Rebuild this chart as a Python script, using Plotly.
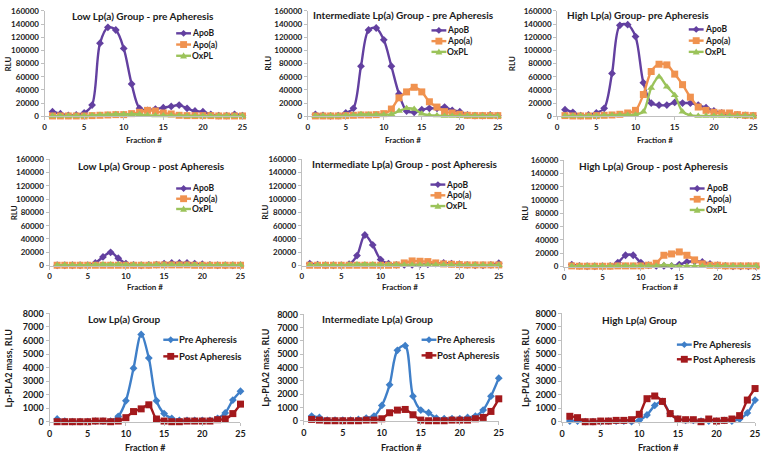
import plotly.graph_objects as go

W, H = 766, 456
fractions = list(range(1, 26))

# ---------------- data ----------------
low_pre_apob = [7000, 4000, 1500, 2000, 5000, 17000, 111000, 135000, 131000, 103000, 49000, 12000, 9000, 11000, 13000, 15000, 17000, 12000, 8000, 7000, 3000, 1000, 1000, 3000, 1000]
low_pre_apoa = [500, 500, 500, 500, 500, 1000, 1500, 2000, 2500, 2500, 4000, 6000, 9000, 8000, 5000, 3500, 1500, 1000, 1000, 1000, 1000, 500, 500, 500, 500]
low_pre_oxpl = [500, 500, 500, 500, 500, 1000, 2000, 2500, 3000, 3000, 3000, 3000, 1500, 1000, 1000, 1000, 1000, 500, 500, 500, 500, 500, 500, 500, 500]

int_pre_apob = [3000, 1500, 500, 1000, 5000, 12000, 76000, 131000, 134000, 116000, 76000, 34000, 8000, 6000, 10000, 12000, 12000, 14000, 9000, 7000, 2000, 1000, 1000, 2000, 1000]
int_pre_apoa = [500, 500, 500, 500, 1000, 1500, 2000, 2000, 2500, 4000, 11000, 28000, 37000, 44000, 37000, 22000, 14000, 7000, 5000, 3000, 1500, 1000, 1000, 1000, 1000]
int_pre_oxpl = [500, 500, 500, 500, 1000, 1500, 3000, 2500, 2500, 2500, 3000, 8000, 12000, 11000, 4000, 1500, 1000, 500, 500, 500, 500, 500, 500, 500, 500]

high_pre_apob = [10000, 6000, 1000, 2000, 5000, 12000, 65000, 138000, 139000, 121000, 51000, 20000, 17000, 17000, 21000, 20000, 20000, 17000, 13000, 8000, 5000, 3000, 2000, 1500, 1000]
high_pre_apoa = [1000, 500, 500, 500, 1000, 1500, 2000, 3000, 5000, 9000, 33000, 68000, 79000, 78000, 64000, 48000, 29000, 14000, 9000, 6000, 5000, 5000, 2500, 1500, 1000]
high_pre_oxpl = [500, 500, 500, 500, 500, 1000, 1500, 2000, 2000, 2500, 7000, 43000, 60000, 45000, 32000, 7000, 1500, 500, 500, 500, 500, 500, 500, 500, 500]

low_post_apob = [500, 500, 500, 500, 500, 4000, 13000, 20000, 11000, 3000, 1000, 500, 1000, 1500, 3000, 4000, 4000, 4000, 3000, 2000, 1000, 500, 500, 500, 500]
low_post_apoa = [500, 500, 500, 500, 500, 500, 500, 500, 500, 500, 500, 500, 500, 1000, 1000, 1000, 1000, 1000, 500, 500, 500, 500, 500, 500, 500]
low_post_oxpl = [500, 500, 500, 500, 500, 1000, 1500, 1500, 1500, 1000, 1000, 1000, 1000, 1000, 1000, 1000, 1000, 1000, 1000, 500, 500, 500, 500, 500, 1000]

int_post_apob = [3000, 1500, 500, 500, 500, 2000, 15000, 46000, 31000, 9000, 3000, 1000, 1000, 1000, 1500, 2000, 3000, 4000, 3000, 2000, 1000, 500, 500, 1000, 3500]
int_post_apoa = [500, 500, 500, 500, 500, 500, 500, 500, 500, 500, 500, 1000, 4000, 7000, 6500, 6000, 4000, 2500, 2000, 1500, 1000, 1000, 1000, 1000, 1000]
int_post_oxpl = [500, 500, 500, 500, 500, 1000, 1500, 1500, 1500, 1000, 1000, 1000, 1000, 1000, 1000, 1000, 1000, 1000, 500, 500, 500, 500, 500, 500, 500]

high_post_apob = [3000, 1000, 500, 500, 500, 1000, 6000, 17000, 17000, 6000, 2000, 1000, 1000, 1000, 3000, 7000, 8000, 7000, 4000, 2000, 1000, 500, 500, 500, 500]
high_post_apoa = [1000, 500, 500, 500, 500, 500, 1000, 1000, 1000, 1000, 2000, 5000, 17000, 19000, 22000, 17000, 10000, 4000, 2000, 2000, 1000, 1000, 1000, 1000, 1000]
high_post_oxpl = [500, 500, 500, 500, 500, 500, 1000, 1000, 1000, 1000, 1000, 1000, 2500, 1500, 500, 500, 500, 500, 500, 500, 500, 500, 500, 500, 500]

low_pla2_pre = [200, 50, 0, 0, 0, 50, 50, 50, 400, 1550, 3950, 6450, 4700, 1550, 600, 250, 100, 100, 100, 100, 100, 250, 650, 1600, 2250]
low_pla2_post = [0, 0, 0, 0, 0, 50, 50, 0, 50, 300, 750, 950, 1250, 200, 50, 0, 0, 50, 50, 50, 50, 150, 200, 600, 1300]
int_pla2_pre = [350, 250, 50, 50, 50, 50, 100, 200, 350, 1150, 2700, 5300, 5650, 1850, 800, 600, 200, 150, 150, 150, 250, 350, 800, 1850, 3200]
int_pla2_post = [100, 50, 0, 0, 0, 0, 0, 50, 50, 150, 600, 800, 850, 450, 50, 0, 0, 0, 50, 50, 50, 150, 250, 700, 1650]
high_pla2_pre = [50, 50, 0, 0, 0, 50, 50, 50, 0, 100, 500, 1200, 1500, 600, 200, 100, 100, 50, 50, 50, 100, 50, 200, 650, 1600]
high_pla2_post = [400, 300, 0, 0, 50, 50, 100, 100, 150, 550, 1700, 1900, 1500, 600, 200, 150, 150, 0, 200, 50, 100, 200, 450, 1600, 2450]

titles = ["Low Lp(a) Group - pre Apheresis", "Intermediate Lp(a) Group - pre Apheresis", "High Lp(a) Group- pre Apheresis",
          "Low Lp(a) Group - post Apheresis", "Intermediate Lp(a) Group - post Apheresis", "High Lp(a) Group - post Apheresis",
          "Low Lp(a) Group", "Intermediate Lp(a) Group", "High Lp(a) Group"]
x_ticks = [0, 5, 10, 15, 20, 25]
rlu_ticks = [0, 20000, 40000, 60000, 80000, 100000, 120000, 140000, 160000]
pla2_ticks = [0, 1000, 2000, 3000, 4000, 5000, 6000, 7000, 8000]

# ---------------- styles ----------------
C_APOB, C_APOA, C_OXPL = "#6340A0", "#F0924F", "#9BC35A"
C_PRE, C_POST = "#3F7FC8", "#A3191C"
FONT = "Lato"
TXT = "#1a1a1a"

apo_series = [("ApoB", C_APOB, "diamond", 6), ("Apo(a)", C_APOA, "square", 7), ("OxPL", C_OXPL, "triangle-up", 7)]
pla_series = [("Pre Apheresis", C_PRE, "diamond", 6), ("Post Apheresis", C_POST, "square", 7)]

panels_data = [
    [low_pre_apob, low_pre_apoa, low_pre_oxpl],
    [int_pre_apob, int_pre_apoa, int_pre_oxpl],
    [high_pre_apob, high_pre_apoa, high_pre_oxpl],
    [low_post_apob, low_post_apoa, low_post_oxpl],
    [int_post_apob, int_post_apoa, int_post_oxpl],
    [high_post_apob, high_post_apoa, high_post_oxpl],
    [low_pla2_pre, low_pla2_post],
    [int_pla2_pre, int_pla2_post],
    [high_pla2_pre, high_pla2_post],
]

# plot area in pixels: x(0), x(25), y(top), y(0)
panel_px = [(42, 242, 5, 113), (308, 500, 5, 113), (560, 758, 5, 113),
            (47, 240, 157, 266), (302, 501, 157, 266), (567, 761, 158, 267),
            (47, 240, 315, 426), (304, 501, 316, 425), (565, 760, 315, 426)]
title_px = [(141, 10), (405, 9), (642, 9), (150, 164), (406, 162), (658, 164), (123, 321), (378, 321), (643, 322)]
xtitle_py = [137, 137, 137, 288, 288, 288, 452, 452, 452]
ytitle_px = [5, 267, 514, 12, 265, 528, 6, 265, 528]
legend_px = [(175, [28, 39.5, 51]), (433, [25, 36, 47]), (693, [24, 35.5, 47]),
             (175, [187, 197.5, 208]), (432, [183, 194, 205]), (694, [187, 198, 209]),
             (162, [342, 359]), (423, [342, 358]), (681, [347, 362])]


def px(x):
    return x / W


def py(y):
    return 1 - y / H


fig = go.Figure()
shapes, annotations = [], []
layout = {}

for i, data in enumerate(panels_data):
    k = "" if i == 0 else str(i + 1)
    is_pla = i >= 6
    series = pla_series if is_pla else apo_series
    for (name, color, sym, size), vals in zip(series, data):
        fig.add_trace(go.Scatter(
            x=fractions, y=vals, name=name, mode="lines+markers",
            line=dict(color=color, width=2.4, shape="spline", smoothing=0.9),
            marker=dict(color=color, symbol=sym, size=size, line=dict(width=0)),
            xaxis="x" + k, yaxis="y" + k, showlegend=False, cliponaxis=False,
            hoverinfo="skip"))
    x0, x1, yt, yb = panel_px[i]
    tfs = 9 if is_pla else 8
    layout["xaxis" + k] = dict(
        domain=[px(x0), px(x1)], anchor="y" + k, range=[0, 25], tickvals=x_ticks,
        showline=True, linecolor="#BFBFBF", linewidth=1, ticks="outside", ticklen=3,
        tickcolor="#BFBFBF", showgrid=False, zeroline=False, fixedrange=True,
        tickfont=dict(family=FONT, size=tfs, color=TXT, weight="bold"))
    layout["yaxis" + k] = dict(
        domain=[py(yb), py(yt)], anchor="x" + k,
        range=[0, 8000] if is_pla else [0, 160000],
        tickvals=pla2_ticks if is_pla else rlu_ticks, tickformat="d",
        showline=True, linecolor="#BFBFBF", linewidth=1, ticks="outside", ticklen=3,
        tickcolor="#BFBFBF", showgrid=False, zeroline=False, fixedrange=True,
        tickfont=dict(family=FONT, size=tfs, color=TXT, weight="bold"))

    # title
    tx, ty = title_px[i]
    annotations.append(dict(text=titles[i], x=px(tx), y=py(ty), xref="paper", yref="paper",
                            xanchor="center", yanchor="middle", showarrow=False,
                            font=dict(family=FONT, size=10, color=TXT, weight="bold")))
    # x title
    annotations.append(dict(text="Fraction #", x=px((x0 + x1) / 2), y=py(xtitle_py[i]),
                            xref="paper", yref="paper", xanchor="center", yanchor="middle",
                            showarrow=False, font=dict(family=FONT, size=tfs, color=TXT, weight="bold")))
    # y title
    annotations.append(dict(text="Lp-PLA2 mass, RLU" if is_pla else "RLU", x=px(ytitle_px[i]),
                            y=py((yt + yb) / 2), xref="paper", yref="paper", textangle=-90,
                            xanchor="center", yanchor="middle", showarrow=False,
                            font=dict(family=FONT, size=tfs, color=TXT, weight="bold")))

    # legend (drawn manually)
    lx, lys = legend_px[i]
    llen = 15
    for (name, color, sym, size), ly in zip(series, lys):
        shapes.append(dict(type="line", xref="paper", yref="paper", x0=px(lx), x1=px(lx + llen),
                           y0=py(ly), y1=py(ly), line=dict(color=color, width=2.4)))
        cx, cy = lx + llen / 2, ly
        h = size / 2
        if sym == "square":
            shapes.append(dict(type="rect", xref="paper", yref="paper",
                               x0=px(cx - h), x1=px(cx + h), y0=py(cy + h), y1=py(cy - h),
                               fillcolor=color, line=dict(width=0)))
        elif sym == "diamond":
            h = h + 0.5
            path = f"M {px(cx)},{py(cy - h)} L {px(cx + h)},{py(cy)} L {px(cx)},{py(cy + h)} L {px(cx - h)},{py(cy)} Z"
            shapes.append(dict(type="path", xref="paper", yref="paper", path=path,
                               fillcolor=color, line=dict(width=0)))
        else:
            path = f"M {px(cx)},{py(cy - h)} L {px(cx + h)},{py(cy + h * 0.8)} L {px(cx - h)},{py(cy + h * 0.8)} Z"
            shapes.append(dict(type="path", xref="paper", yref="paper", path=path,
                               fillcolor=color, line=dict(width=0)))
        annotations.append(dict(text=name, x=px(lx + llen), y=py(ly), xref="paper", yref="paper",
                                xanchor="left", yanchor="middle", showarrow=False, borderpad=0,
                                font=dict(family=FONT, size=tfs + 0.5, color=TXT, weight="bold")))

fig.update_layout(
    width=W, height=H, margin=dict(l=0, r=0, t=0, b=0),
    paper_bgcolor="white", plot_bgcolor="white", showlegend=False, hovermode=False,
    shapes=shapes, annotations=annotations, **layout)

fig.write_html("out.html", config={"displayModeBar": False, "staticPlot": True},
               post_script="document.body.style.margin='0';document.body.style.overflow='hidden';")
